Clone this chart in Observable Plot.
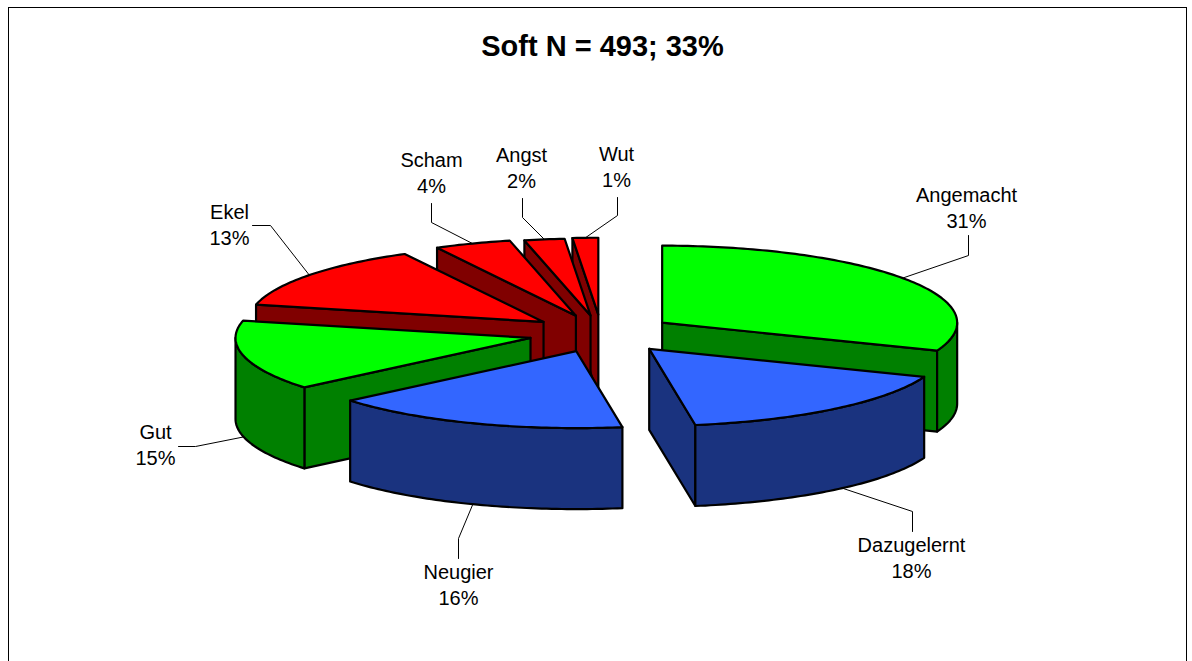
<!DOCTYPE html>
<html><head><meta charset="utf-8">
<script src="https://cdn.jsdelivr.net/npm/d3@7"></script>
<script src="https://cdn.jsdelivr.net/npm/@observablehq/plot@0.6"></script>
<style>html,body{margin:0;padding:0;background:#fff;overflow:hidden}svg{display:block}</style>
</head><body><div id="chart"></div>
<script>
const titleText = "Soft N = 493; 33%";
const categories = ["Angemacht","Dazugelernt","Neugier","Gut","Ekel","Scham","Angst","Wut"];
const percents   = [31,18,16,15,13,4,2,1];
// slice sizes as they appear in the 3D picture (the labels are the printed percentages)
const drawnShares = [30.9,16.6,16.4,14.7,13.6,4.2,2.2,1.4];
const topColors  = ["#00ff00","#3366ff","#3366ff","#00ff00","#ff0000","#ff0000","#ff0000","#ff0000"];
const sideColors = ["#008000","#1a337f","#1a337f","#008000","#800000","#800000","#800000","#800000"];
const paintOrder = [7,6,5,4,0,3,1,2];
// how far each slice is pulled out of the pie, in page pixels along its middle
const explosions = [73.5,76,72,73,73,73,70,72];
const leaderShift = [-1,-2,0,0,0,0,0,0];

// chart geometry
const W=1192,H=661,cx=601,cy=333,rx=295,ry=77,depthPx=81;
const depth=depthPx/ry;
const rad=d=>d*Math.PI/180;
const toModel=(x,y)=>({x:(x-cx)/rx,y:(cy-y)/ry});

// label block centres and leader bends, in page pixels
const labelCentres=[[966,206],[911,556],[458,583],[155,443],[229,223],[431,171],[521,166],[616,165]];
const leaderBends=[[[968,255],[968,235]],[[912,511],[912,531]],[[458,538],[458,558]],[[195,446],[178,446]],
                   [[270,225],[252,225]],[[431,222],[431,203]],[[522,217],[522,198]],[[617,215],[617,197]]];

let acc=0;
const slices=categories.map((name,i)=>{
  const a0=acc*3.6; acc+=drawnShares[i]; const a1=acc*3.6; const mid=(a0+a1)/2;
  const e=explosions[i]/rx;
  const ax=e*Math.sin(rad(mid)), ay=e*Math.cos(rad(mid));
  return {name,i,pct:percents[i],a0,a1,mid,ax,ay};
});
const rim=(s,a,drop=0)=>({x:s.ax+Math.sin(rad(a)),y:s.ay+Math.cos(rad(a))-drop});
const arc=(s,from,to,drop=0)=>{const n=Math.max(2,Math.ceil(Math.abs(to-from)));
  return d3.range(n+1).map(k=>rim(s,from+(to-from)*k/n,drop));};
const apex=(s,drop=0)=>({x:s.ax,y:s.ay-drop});

const faceStyle=fill=>({x:"x",y:"y",fill,stroke:"#000",strokeWidth:2.2,strokeLinejoin:"round",curve:"linear"});
const marks=[Plot.frame({stroke:"#000",strokeWidth:1})];
for(const idx of paintOrder){
  const s=slices[idx]; const side=sideColors[idx], top=topColors[idx];
  const sinA0=Math.sin(rad(s.a0)), sinA1=Math.sin(rad(s.a1));
  if(sinA0<-1e-6){const e=rim(s,s.a0),b=rim(s,s.a0,depth);
    marks.push(Plot.line([apex(s),e,b,apex(s,depth),apex(s)],faceStyle(side)));}
  if(sinA1>1e-6){const e=rim(s,s.a1),b=rim(s,s.a1,depth);
    marks.push(Plot.line([apex(s),e,b,apex(s,depth),apex(s)],faceStyle(side)));}
  const w0=Math.max(s.a0,90),w1=Math.min(s.a1,270);
  if(w1>w0){marks.push(Plot.line([...arc(s,w0,w1),...arc(s,w1,w0,depth),rim(s,w0)],faceStyle(side)));}
  marks.push(Plot.line([apex(s),...arc(s,s.a0,s.a1),apex(s)],faceStyle(top)));
}
// leaders from the middle of each slice's visible rim
slices.forEach((s,i)=>{
  const front=Math.cos(rad(s.mid))<0;
  const pts=[rim(s,s.mid+leaderShift[i],front?depth:0),...leaderBends[i].map(p=>toModel(p[0],p[1]))];
  marks.push(Plot.line(pts,{x:"x",y:"y",stroke:"#000",strokeWidth:1}));
});
const labelRows=slices.map((s,i)=>({...toModel(...labelCentres[i]),text:`${s.name}\n${s.pct}%`}));
marks.push(Plot.text(labelRows,{x:"x",y:"y",text:"text",fontSize:20,lineHeight:1.3,fill:"#000",textAnchor:"middle"}));
marks.push(Plot.text([{...toModel(602,46),text:titleText}],{x:"x",y:"y",text:"text",fontSize:29,fontWeight:"bold",fill:"#000"}));

const chart=Plot.plot({
  width:W,height:H,marginLeft:8,marginTop:7,marginRight:6,marginBottom:-20,
  style:{background:"#fff",fontFamily:"'Liberation Sans',Arial,sans-serif",color:"#000"},
  x:{domain:[-1,1],range:[cx-rx,cx+rx],axis:null},
  y:{domain:[1,-1],range:[cy-ry,cy+ry],axis:null},
  marks
});
document.getElementById("chart").appendChild(chart);
</script></body></html>
